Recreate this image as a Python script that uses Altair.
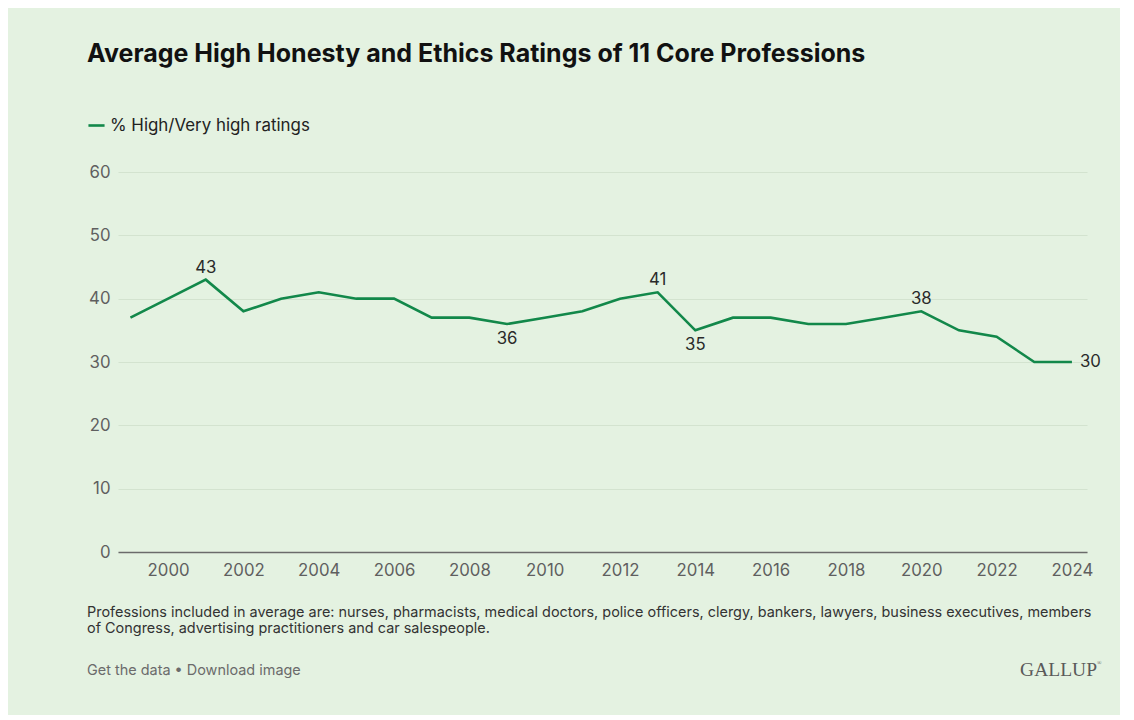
import altair as alt
import pandas as pd

years = list(range(1999, 2025))
values = [37, 40, 43, 38, 40, 41, 40, 40, 37, 37, 36, 37, 38, 40, 41, 35,
          37, 37, 36, 36, 37, 38, 35, 34, 30, 30]
series_name = "% High/Very high ratings"

label_years = [2001, 2009, 2013, 2014, 2020, 2024]
label_pos = ["above", "below", "above", "below", "above", "right"]

x_ticks = list(range(2000, 2025, 2))
y_ticks = [0, 10, 20, 30, 40, 50, 60]

footnote = [
    "Professions included in average are: nurses, pharmacists, medical doctors, police officers, clergy, bankers, lawyers, business executives, members",
    "of Congress, advertising practitioners and car salespeople.",
]
links = "Get the data \u2022 Download image"
brand = "GALLUP"
brand_mark = "\u00ae"

df = pd.DataFrame({"year": years, "value": values, "series": series_name})
lab = df[df["year"].isin(label_years)].copy()
lab["pos"] = [label_pos[label_years.index(y)] for y in lab["year"]]

GREEN = "#12884a"
BG = "#e4f2e1"
FONT = "Inter"

xs = alt.Scale(domain=[1998.67, 2024.4], nice=False, zero=False)
ys = alt.Scale(domain=[0, 60], nice=False)

x_enc = alt.X("year:Q", scale=xs, axis=alt.Axis(
    values=x_ticks, format="d", title=None, grid=False, ticks=False,
    domain=True, domainColor="#6b6b6b", domainWidth=1.5,
    labelFontSize=16.8, labelColor="#5f5f5f", labelPadding=10, labelFont=FONT))
y_enc = alt.Y("value:Q", scale=ys, axis=alt.Axis(
    values=y_ticks, title=None, ticks=False, domain=False,
    grid=True, gridColor="#d3e3cf", gridWidth=1,
    labelFontSize=16.8, labelColor="#5f5f5f", labelPadding=8, labelFont=FONT))

line = alt.Chart(df).mark_line(strokeWidth=2.6, color=GREEN).encode(
    x=x_enc, y=y_enc,
    color=alt.Color("series:N", scale=alt.Scale(range=[GREEN]),
                    legend=alt.Legend(title=None, orient="none", legendX=-31, legendY=-56,
                                      symbolType="stroke", symbolStrokeWidth=2.6,
                                      symbolSize=260, labelFontSize=16.9, labelFont=FONT,
                                      labelColor="#222222", labelOffset=4, labelLimit=500)),
)

txt_common = dict(fontSize=16.8, font=FONT, color="#2a2a2a")
above = alt.Chart(lab[lab["pos"] == "above"]).mark_text(dy=-12, **txt_common).encode(
    x="year:Q", y="value:Q", text="value:Q")
below = alt.Chart(lab[lab["pos"] == "below"]).mark_text(dy=15, **txt_common).encode(
    x="year:Q", y="value:Q", text="value:Q")
right = alt.Chart(lab[lab["pos"] == "right"]).mark_text(dx=8, align="left", **txt_common).encode(
    x="year:Q", y="value:Q", text="value:Q")

FS = 14.45
foot1 = alt.Chart(pd.DataFrame({"t": [footnote[0]]})).mark_text(
    align="left", baseline="middle", fontSize=FS, font=FONT, color="#333333").encode(
    text="t:N", x=alt.value(-31), y=alt.value(441))
foot2 = alt.Chart(pd.DataFrame({"t": [footnote[1]]})).mark_text(
    align="left", baseline="middle", fontSize=FS, font=FONT, color="#333333").encode(
    text="t:N", x=alt.value(-31), y=alt.value(457))
link_t = alt.Chart(pd.DataFrame({"t": [links]})).mark_text(
    align="left", baseline="middle", fontSize=FS, font=FONT, color="#6b6b6b").encode(
    text="t:N", x=alt.value(-31), y=alt.value(499))
brand_t = alt.Chart(pd.DataFrame({"t": [brand]})).mark_text(
    align="right", baseline="middle", fontSize=19.5, font="Liberation Serif", color="#5a5a5a").encode(
    text="t:N", x=alt.value(979), y=alt.value(498))
brand_r = alt.Chart(pd.DataFrame({"t": [brand_mark]})).mark_text(
    align="left", baseline="middle", fontSize=6, font="Liberation Serif", color="#5a5a5a").encode(
    text="t:N", x=alt.value(979), y=alt.value(491))

chart = alt.layer(line, above, below, right, foot1, foot2, link_t, brand_t, brand_r).properties(
    width=969, height=380,
    autosize=alt.AutoSizeParams(type="none"),
    padding={"left": 110, "top": 164, "right": 33, "bottom": 163},
    background=BG,
    title=alt.TitleParams(
        "Average High Honesty and Ethics Ratings of 11 Core Professions",
        anchor="start", frame="group", dx=-31, fontSize=25, font=FONT,
        fontWeight="bold", color="#111111", offset=49),
).configure_view(stroke=None)

chart.save("out.html", embed_options={"renderer": "svg", "actions": False})
